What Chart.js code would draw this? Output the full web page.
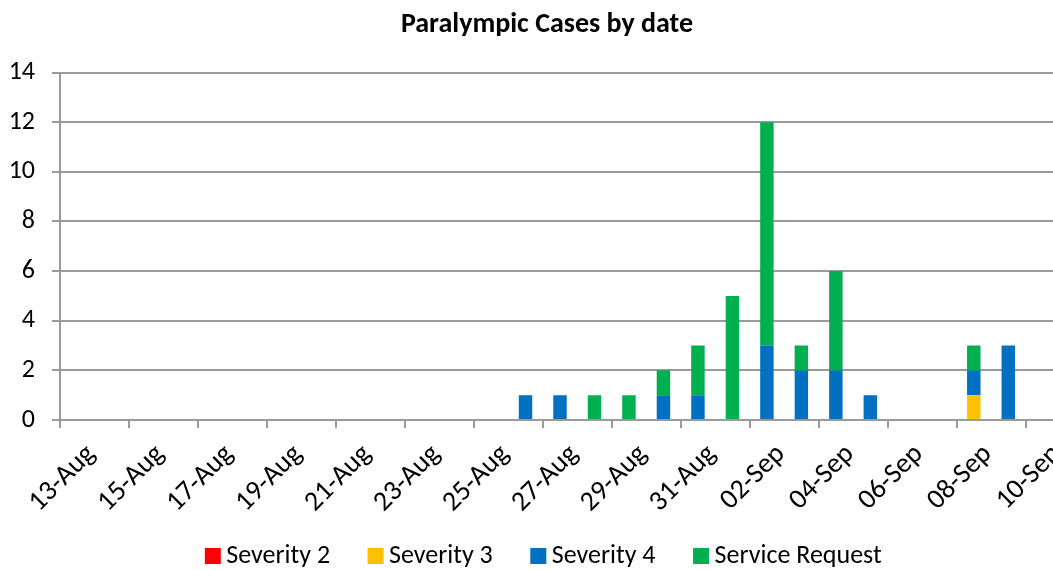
<!DOCTYPE html>
<html>
<head>
<meta charset="utf-8">
<script src="https://cdn.jsdelivr.net/npm/chart.js@4"></script>
<style>
  html, body { margin: 0; padding: 0; background: #fff; overflow: hidden; }
  #wrap { width: 1094px; height: 570px; }
</style>
</head>
<body>
<div id="wrap"><canvas id="casesChart" width="1094" height="570"></canvas></div>
<script>
// one slot per day, labels shown every second day
const dates = ['13-Aug', '14-Aug', '15-Aug', '16-Aug', '17-Aug', '18-Aug', '19-Aug', '20-Aug',
  '21-Aug', '22-Aug', '23-Aug', '24-Aug', '25-Aug', '26-Aug', '27-Aug', '28-Aug', '29-Aug',
  '30-Aug', '31-Aug', '01-Sep', '02-Sep', '03-Sep', '04-Sep', '05-Sep', '06-Sep', '07-Sep',
  '08-Sep', '09-Sep', '10-Sep'];

const severity2 = [0, 0, 0, 0, 0, 0, 0, 0, 0, 0, 0, 0, 0, 0, 0, 0, 0, 0, 0, 0, 0, 0, 0, 0, 0, 0, 0, 0, 0];
const severity3 = [0, 0, 0, 0, 0, 0, 0, 0, 0, 0, 0, 0, 0, 0, 0, 0, 0, 0, 0, 0, 0, 0, 0, 0, 0, 0, 1, 0, 0];
const severity4 = [0, 0, 0, 0, 0, 0, 0, 0, 0, 0, 0, 0, 0, 1, 1, 0, 0, 1, 1, 0, 3, 2, 2, 1, 0, 0, 1, 3, 0];
const serviceRequest = [0, 0, 0, 0, 0, 0, 0, 0, 0, 0, 0, 0, 0, 0, 0, 1, 1, 1, 2, 5, 9, 1, 4, 0, 0, 0, 1, 0, 0];

const yTicks = [0, 2, 4, 6, 8, 10, 12, 14];

const FONT = 'Carlito, Calibri, Lato, sans-serif';
const GRID = '#9a9a9a';

// the legend's item padding also pads it vertically; lift the row back up
const legendLift = {
  id: 'legendLift',
  afterLayout(chart) {
    const lg = chart.legend;
    lg.top -= 26;
    lg.bottom -= 26;
  }
};

const ctx = document.getElementById('casesChart').getContext('2d');
new Chart(ctx, {
  type: 'bar',
  data: {
    labels: dates,
    datasets: [
      { label: 'Severity 2', data: severity2, backgroundColor: '#FF0000' },
      { label: 'Severity 3', data: severity3, backgroundColor: '#FFC000' },
      { label: 'Severity 4', data: severity4, backgroundColor: '#0070C0' },
      { label: 'Service Request', data: serviceRequest, backgroundColor: '#00B050' }
    ]
  },
  plugins: [legendLift],
  options: {
    responsive: false,
    devicePixelRatio: 1,
    animation: false,
    layout: { padding: { left: 0, right: 0, top: 0, bottom: -35 } },
    datasets: {
      bar: { categoryPercentage: 1, barPercentage: 0.39 }
    },
    plugins: {
      title: {
        display: true,
        text: 'Paralympic Cases by date',
        color: '#000',
        font: { family: FONT, size: 28, weight: 'bold' },
        padding: { top: 8, bottom: 31 }
      },
      legend: {
        position: 'bottom',
        labels: {
          color: '#000',
          font: { family: FONT, size: 26 },
          usePointStyle: true,
          pointStyle: 'rect',
          boxWidth: 1,
          boxHeight: 16,
          padding: 45
        }
      },
      tooltip: { enabled: false }
    },
    scales: {
      x: {
        stacked: true,
        offset: true,
        afterFit: s => { s.height = 104; },
        grid: {
          offset: true,
          drawOnChartArea: false,
          tickLength: 8,
          lineWidth: 2,
          color: c => (c.index % 2 === 0 && c.index < dates.length) ? GRID : 'rgba(0,0,0,0)'
        },
        border: { color: GRID, width: 2 },
        ticks: {
          autoSkip: false,
          minRotation: 45,
          maxRotation: 45,
          padding: 10,
          labelOffset: 14,
          color: '#000',
          font: { family: FONT, size: 28 },
          callback: (v, i) => (i % 2 === 0 ? dates[i] : '')
        }
      },
      y: {
        stacked: true,
        min: 0,
        max: 14,
        afterFit: s => { s.width = 60; },
        afterBuildTicks: s => { s.ticks = yTicks.map(v => ({ value: v })); },
        grid: { color: GRID, lineWidth: 2, tickLength: 8 },
        border: { color: GRID, width: 2 },
        ticks: {
          padding: 17,
          color: '#000',
          font: { family: FONT, size: 26 }
        }
      },
      // empty axis on the right keeps room after the last day slot
      yRight: {
        type: 'linear',
        position: 'right',
        afterFit: s => { s.width = 34; },
        grid: { drawOnChartArea: false, drawTicks: false },
        border: { display: false },
        ticks: { display: false }
      }
    }
  }
});
</script>
</body>
</html>
